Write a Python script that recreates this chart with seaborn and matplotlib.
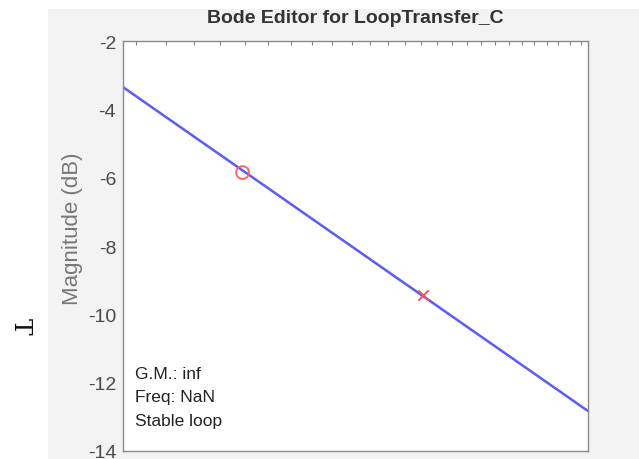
import matplotlib
matplotlib.use("Agg")
import matplotlib.pyplot as plt
from matplotlib.patches import Rectangle
from matplotlib.ticker import FixedLocator, NullFormatter
import numpy as np
import pandas as pd
import seaborn as sns

# Open-loop magnitude response (straight segment on a log-frequency axis)
freq = [13.6, 39.6]
magnitude_db = [-3.35, -12.83]

# Editor markers: gain-margin circle and pole/zero cross
circle_freq = [17.9]
circle_mag = [-5.85]
cross_freq = [27.1]
cross_mag = [-9.42]

y_ticks = [-14, -12, -10, -8, -6, -4, -2]
x_minor_ticks = list(range(14, 40))
info_lines = ["G.M.: inf", "Freq: NaN", "Stable loop"]

sns.set_theme(style="white")
plt.rcParams["font.family"] = ["Liberation Sans", "DejaVu Sans"]

fig = plt.figure(figsize=(6.39, 4.60), dpi=100)
fig.patch.set_facecolor("white")
fig.add_artist(Rectangle((48 / 639, 0), 1 - 48 / 639, 450 / 460,
                         transform=fig.transFigure, facecolor="#f3f3f3",
                         edgecolor="none", zorder=-10))

ax = fig.add_axes([123 / 639, 8 / 460, 465 / 639, 410 / 460])
ax.set_facecolor("white")

line_df = pd.DataFrame({"freq": freq, "mag": magnitude_db})
sns.lineplot(data=line_df, x="freq", y="mag", ax=ax, color="#5a5aff",
             linewidth=1.8, zorder=2)
sns.scatterplot(x=circle_freq, y=circle_mag, ax=ax, marker="o", s=85,
                facecolor="none", edgecolor="#ff6060", linewidth=1.3, zorder=3)
sns.scatterplot(x=cross_freq, y=cross_mag, ax=ax, marker="x", s=55,
                color="#ff5060", linewidth=1.4, zorder=3)

ax.set_xscale("log")
ax.set_xlim(13.6, 39.6)
ax.set_ylim(-14, -2)
ax.set_yticks(y_ticks)
ax.set_yticklabels([str(t) for t in y_ticks])
ax.xaxis.set_major_locator(FixedLocator(x_minor_ticks))
ax.xaxis.set_minor_locator(FixedLocator([]))
ax.xaxis.set_major_formatter(NullFormatter())
ax.xaxis.set_minor_formatter(NullFormatter())
ax.set_xlabel("")
ax.set_ylabel("Magnitude (dB)", fontsize=16, color="#777777", labelpad=1)
ax.yaxis.set_label_coords(-0.085, 0.545)
ax.set_title("Bode Editor for LoopTransfer_C", fontsize=14, fontweight="bold",
             color="#333333", pad=14)

ax.tick_params(axis="both", direction="in", top=True, right=False,
               length=3, width=0.8, color="#808080")
ax.tick_params(axis="y", labelsize=14, labelcolor="#4a4a4a", pad=5)
for side in ax.spines.values():
    side.set_color("#8a8a8a")
    side.set_linewidth(1.0)
    side.set_visible(True)

for i, txt in enumerate(info_lines):
    ax.text(0.025, 0.189 - i * 0.057, txt, transform=ax.transAxes,
            fontsize=12.5, color="#222222", va="center", ha="left")

fig.text(20 / 639, 1 - 326 / 460, "T", family="DejaVu Serif", fontsize=18,
         rotation=-90, ha="center", va="center", color="#111111")

fig.savefig("out.png", dpi=100, facecolor=fig.get_facecolor())
